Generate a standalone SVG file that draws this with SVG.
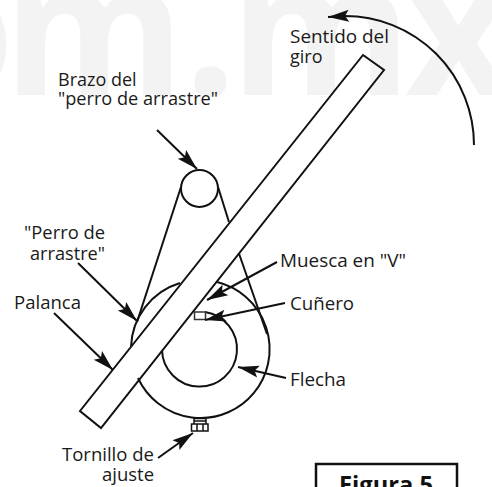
<svg xmlns="http://www.w3.org/2000/svg" width="492" height="487" viewBox="0 0 492 487">
<style>
.wm{font-family:"Open Sans","Noto Sans",sans-serif;font-weight:700;font-size:185px;fill:#f3f3f3}
.t{font-family:"Open Sans","Noto Sans",sans-serif;font-size:18px;fill:#1a1a1a}
.l{fill:none;stroke:#111;stroke-width:2}
.a{fill:none;stroke:#111;stroke-width:2;marker-end:url(#ah)}
.b{font-family:"Open Sans","Noto Sans",sans-serif;font-size:24px;font-weight:700;fill:#111}
</style>
<defs>
<marker id="ah" markerUnits="userSpaceOnUse" markerWidth="26" markerHeight="14" refX="21" refY="6" orient="auto" overflow="visible"><path d="M0 0L21 6L0 12L4 6Z" fill="#111"/></marker>
</defs>
<rect width="492" height="487" fill="#fff"/>
<text class="wm" x="-100 3 184 230 405" y="95">om.mx</text>
<g id="flecha"><path class="l" d="M162 350A37.500 37.500 0 1 0 205 312"/></g>
<g id="perro">
<path class="l" d="M131 347A69 69 0 0 1 180 283"/>
<path class="l" d="M217 282A69 69 0 1 1 138 378"/>
<path class="l" d="M137 322L181 187"/>
<path class="l" d="M218 187L229 222"/>
<path class="l" d="M238.800 253L267 334"/>
<circle class="l" cx="199.500" cy="188.500" r="18.500"/>
</g>
<g id="cunero"><rect x="194.500" y="312" width="11" height="7.500" fill="#fff" stroke="#333" stroke-width="1.500"/></g>
<g id="palanca"><path class="l" d="M363 55L384 70L101 428L80 411Z"/></g>
<g id="tornillo">
<path d="M191.500 424H208V431H191.500ZM197 424V431M203 424V431M194 424V418.500H206V424M194 421H206" fill="none" stroke="#111" stroke-width="1.500"/>
</g>
<g id="connectors">
<path class="a" d="M157 130L197 169"/>
<path class="a" d="M78 263L137 321"/>
<path class="a" d="M54 313L113 370"/>
<path class="a" d="M277 262L207 300"/>
<path class="a" d="M285 303L205 320"/>
<path class="a" d="M286 378L238 367"/>
<path class="a" d="M158 458L193 433"/>
<path class="a" d="M474 145A129 129 0 0 0 345 16L328 17"/>
</g>
<g id="labels">
<text class="t" x="290" y="43" textLength="99" lengthAdjust="spacingAndGlyphs">Sentido del</text>
<text class="t" x="290" y="63">giro</text>
<text class="t" x="58" y="86">Brazo del</text>
<text class="t" x="58" y="105" textLength="160" lengthAdjust="spacingAndGlyphs">"perro de arrastre"</text>
<text class="t" x="24" y="239" textLength="81" lengthAdjust="spacingAndGlyphs">"Perro de</text>
<text class="t" x="30" y="260" textLength="75" lengthAdjust="spacingAndGlyphs">arrastre"</text>
<text class="t" x="14" y="309" textLength="67" lengthAdjust="spacingAndGlyphs">Palanca</text>
<text class="t" x="280" y="267" textLength="126" lengthAdjust="spacingAndGlyphs">Muesca en "V"</text>
<text class="t" x="290" y="310" textLength="64" lengthAdjust="spacingAndGlyphs">Cuñero</text>
<text class="t" x="290" y="386" textLength="56" lengthAdjust="spacingAndGlyphs">Flecha</text>
<text class="t" x="62" y="461" textLength="92" lengthAdjust="spacingAndGlyphs">Tornillo de</text>
<text class="t" x="102" y="481" textLength="52" lengthAdjust="spacingAndGlyphs">ajuste</text>
</g>
<g id="figura">
<rect x="316" y="464" width="141" height="40" fill="#fff" stroke="#111" stroke-width="2.500"/>
<text class="b" x="339" y="493" textLength="94" lengthAdjust="spacingAndGlyphs">Figura 5</text>
</g>
</svg>
